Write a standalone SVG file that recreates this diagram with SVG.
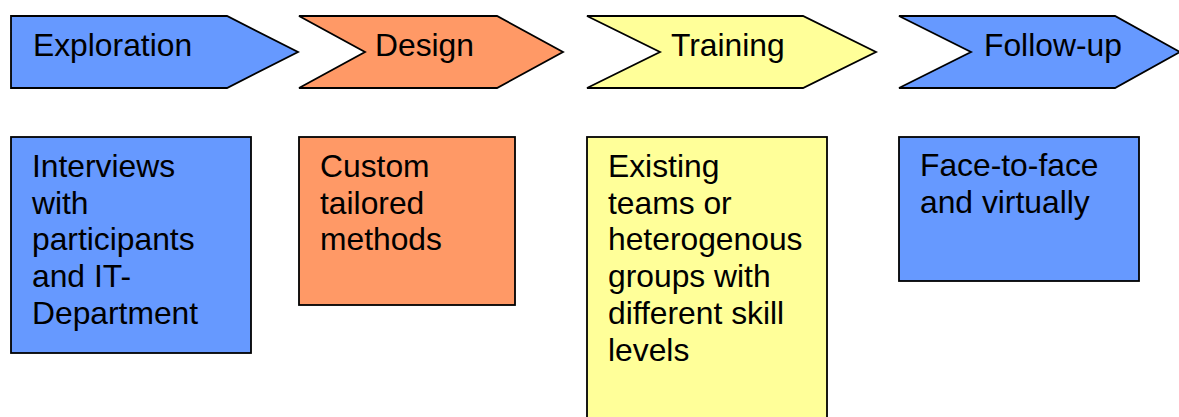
<svg xmlns="http://www.w3.org/2000/svg" width="1179" height="417" viewBox="0 0 1179 417">
<style>
.shape{stroke:#000;stroke-width:1.8;stroke-linejoin:miter}
.blue{fill:#6699FF}
.orange{fill:#FF9966}
.yellow{fill:#FFFF99}
text{font-family:"Liberation Sans",Arial,sans-serif;font-size:31.8px;fill:#000}
</style>
<rect width="1179" height="417" fill="#fff"/>
<g id="connectors"></g>
<g id="chevron-exploration">
<path class="shape blue" d="M11,16 L227,16 L298,52 L227,88 L11,88 Z"/>
<text x="33" y="56">Exploration</text>
</g>
<g id="chevron-design">
<path class="shape orange" d="M299,16 L497,16 L563,52 L497,88 L299,88 L365,52 Z"/>
<text x="375" y="56">Design</text>
</g>
<g id="chevron-training">
<path class="shape yellow" d="M587,16 L803,16 L876,52 L803,88 L587,88 L660,52 Z"/>
<text x="671" y="56">Training</text>
</g>
<g id="chevron-followup">
<path class="shape blue" d="M899,16 L1115,16 L1180,52 L1115,88 L899,88 L971,52 Z"/>
<text x="984" y="56">Follow-up</text>
</g>
<g id="box-exploration">
<rect class="shape blue" x="11" y="137" width="240" height="216"/>
<text x="32"><tspan x="32" y="177">Interviews</tspan><tspan x="32" y="214">with</tspan><tspan x="32" y="250">participants</tspan><tspan x="32" y="287">and IT-</tspan><tspan x="32" y="324">Department</tspan></text>
</g>
<g id="box-design">
<rect class="shape orange" x="299" y="137" width="216" height="168"/>
<text x="320"><tspan x="320" y="177">Custom</tspan><tspan x="320" y="214">tailored</tspan><tspan x="320" y="250">methods</tspan></text>
</g>
<g id="box-training">
<rect class="shape yellow" x="587" y="137" width="240" height="290"/>
<text x="608"><tspan x="608" y="177">Existing</tspan><tspan x="608" y="214">teams or</tspan><tspan x="608" y="250">heterogenous</tspan><tspan x="608" y="287">groups with</tspan><tspan x="608" y="324">different skill</tspan><tspan x="608" y="361">levels</tspan></text>
</g>
<g id="box-followup">
<rect class="shape blue" x="899" y="137" width="240" height="144"/>
<text x="920"><tspan x="920" y="176">Face-to-face</tspan><tspan x="920" y="213">and virtually</tspan></text>
</g>
</svg>
